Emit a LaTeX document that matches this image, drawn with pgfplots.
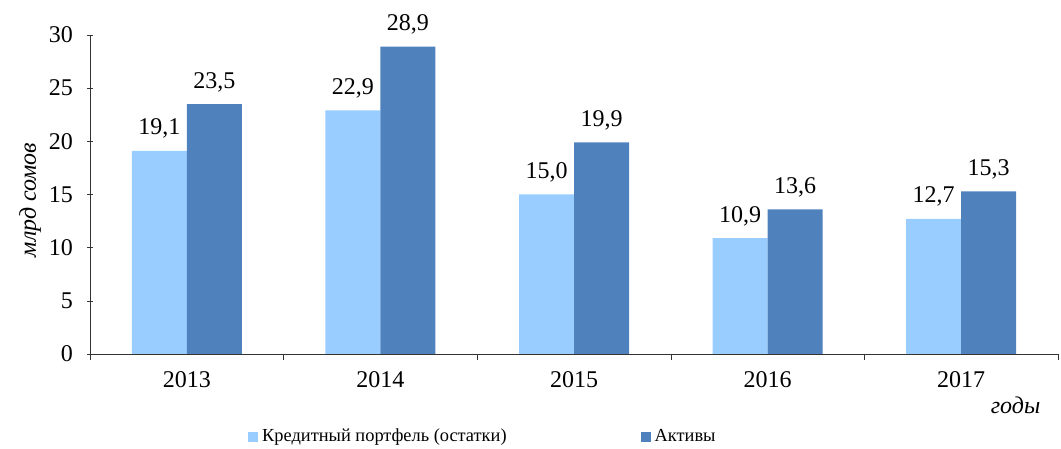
\documentclass[border=0pt]{standalone}
\usepackage{fontspec}
\setmainfont{Liberation Serif}
\usepackage{pgfplots}
\pgfplotsset{compat=1.18}
\definecolor{lightb}{RGB}{153,204,255}
\definecolor{darkb}{RGB}{79,129,189}
\begin{document}
\begin{tikzpicture}
\begin{axis}[
  name=ax,
  clip=false,
  scale only axis,
  width=484pt, height=159.5pt,
  xmin=-0.5, xmax=4.5,
  ymin=0, ymax=30,
  ytick={0,5,...,30},
  xtick={-0.5,0.5,1.5,2.5,3.5,4.5},
  xticklabels={},
  extra x ticks={0,1,2,3,4},
  extra x tick labels={2013,2014,2015,2016,2017},
  extra x tick style={major tick length=0pt, xticklabel style={yshift=-5pt}},
  major tick length=3pt,
  tick align=outside,
  axis x line=bottom, axis y line=left,
  axis line style={-, black!80},
  tick style={black!80},
  /pgf/number format/assume math mode=true,
  ticklabel style={font=\fontsize{12}{14}\selectfont},
  yticklabel style={xshift=-3.5pt},
  ybar, bar width=27.5pt,
  ylabel={\itshape млрд сомов},
  ylabel style={at={(axis description cs:-0.062,0.483)}, anchor=center, font=\fontsize{12}{14}\selectfont},
  nodes near coords,
  nodes near coords style={font=\fontsize{12}{14}\selectfont, /pgf/number format/.cd, use comma, fixed, fixed zerofill, precision=1, /tikz/.cd, inner sep=0pt, yshift=6pt, anchor=south},
  legend columns=2,
  legend style={draw=none, at={(0.163,-0.26)}, anchor=west, inner sep=0pt, font=\fontsize{9.2}{11}\selectfont, /tikz/every even column/.append style={column sep=65pt}},
  legend image code/.code={\fill[#1] (0pt,-2.5pt) rectangle (5pt,2.5pt);},
]
\addplot[fill=lightb, draw=none, bar shift=-13.75pt] coordinates {(0,19.1) (1,22.9) (2,15.0) (3,10.9) (4,12.7)};
\addplot[fill=darkb, draw=none, bar shift=13.75pt] coordinates {(0,23.5) (1,28.9) (2,19.9) (3,13.6) (4,15.3)};
\legend{Кредитный портфель (остатки), Активы}
\node[anchor=east, font=\fontsize{12}{14}\selectfont\itshape] at (rel axis cs:0.989,-0.16) {годы};
\end{axis}
\pgfresetboundingbox
\path ([xshift=-45pt,yshift=-47pt]ax.south west) rectangle ([xshift=1.5pt,yshift=17.5pt]ax.north east);
\end{tikzpicture}
\end{document}
